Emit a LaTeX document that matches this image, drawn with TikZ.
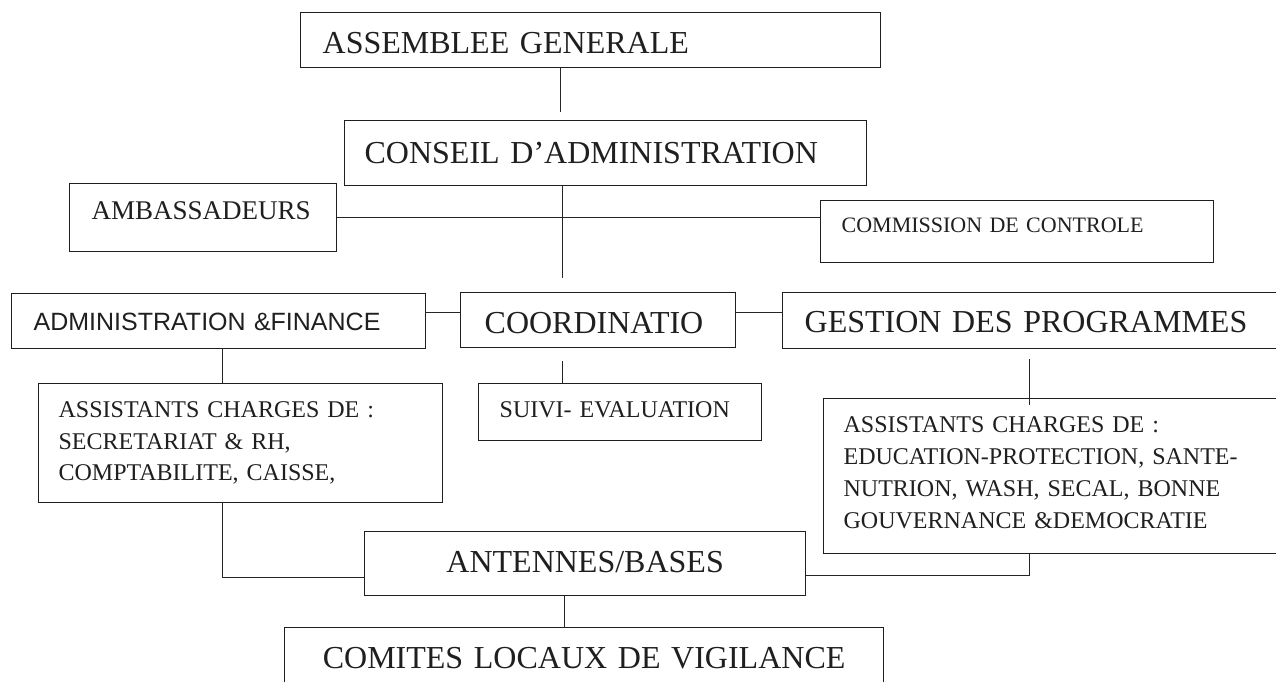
\documentclass[tikz,border=0pt]{standalone}
\usepackage{fontspec}
\setmainfont{Liberation Serif}
\newfontfamily\sansf{Liberation Sans}
\begin{document}
\begin{tikzpicture}[x=1pt,y=-1pt,
  box/.style={draw=black!88, line width=1.3pt, anchor=north west, inner ysep=0pt, align=left, text=black!88},
  conn/.style={draw=black!85, line width=1pt},
  fbig/.style={font=\fontsize{32}{38}\selectfont},
  fmid/.style={font=\fontsize{24}{31.5}\selectfont}]
\fill[white] (0,0) rectangle (1276,681);
\useasboundingbox (0,0) rectangle (1276,681);

\node[box, fbig, inner xsep=22pt, text width=536pt, text height=40.5pt, text depth=14.5pt] (ag) at (300,12) {ASSEMBLEE GENERALE};
\node[box, fbig, inner xsep=20pt, text width=482pt, text height=43pt, text depth=22pt] (ca) at (344,120) {CONSEIL D’ADMINISTRATION};
\node[box, font=\fontsize{27}{32}\selectfont, inner xsep=22pt, text width=223pt, text height=36pt, text depth=32pt] (amb) at (69,183) {AMBASSADEURS};
\node[box, font=\fontsize{22}{26}\selectfont, inner xsep=21pt, text width=351pt, text height=31.7pt, text depth=30.3pt] (comm) at (820,200) {COMMISSION DE CONTROLE};
\node[box, font=\sansf\fontsize{25}{30}\selectfont, inner xsep=22pt, text width=370pt, text height=37pt, text depth=18pt] (admin) at (11,293) {ADMINISTRATION \&FINANCE};
\node[box, fbig, inner xsep=24pt, text width=227pt, text height=41pt, text depth=14pt] (coord) at (460,292) {COORDINATIO};
\node[box, fbig, inner xsep=22pt, text width=464pt, text height=40pt, text depth=16pt] (gest) at (782,292) {GESTION DES PROGRAMMES};
\node[box, fmid, inner xsep=21pt, text width=241pt, text height=34pt, text depth=23pt] (suivi) at (478,383) {SUIVI- EVALUATION};
\node[box, fmid, inner xsep=20.5pt, text width=363.5pt, text height=34pt, text depth=85pt] (la) at (37.5,383) {ASSISTANTS CHARGES DE :\\SECRETARIAT \& RH,\\COMPTABILITE, CAISSE,};
\node[box, font=\fontsize{24}{32}\selectfont, inner xsep=20pt, text width=427pt, text height=34pt, text depth=121pt] (ra) at (823,398) {ASSISTANTS CHARGES DE :\\EDUCATION-PROTECTION, SANTE-\\NUTRION, WASH, SECAL, BONNE\\GOUVERNANCE \&DEMOCRATIE};
\node[box, fbig, align=center, inner xsep=20pt, text width=401pt, text height=41pt, text depth=23pt] (ant) at (364,531) {ANTENNES/BASES};
\node[box, fbig, align=center, inner xsep=20pt, text width=559pt, text height=41pt, text depth=32pt] (com) at (284,627) {COMITES LOCAUX DE VIGILANCE};

\coordinate (xa) at (560,0);
\coordinate (xb) at (562,0);
\coordinate (xc) at (222,0);
\coordinate (xd) at (1029,0);
\coordinate (xe) at (564,0);
\coordinate (ya) at (0,312);
\coordinate (yb) at (0,577);
\coordinate (yc) at (0,575);

\draw[conn, shorten >=8pt] (ag.south -| xa) -- (ca.north -| xa);
\draw[conn] (amb.east) -- (amb.east -| comm.west);
\draw[conn, shorten >=14pt] (ca.south -| xb) -- (coord.north -| xb);
\draw[conn] (admin.east |- ya) -- (coord.west |- ya);
\draw[conn] (coord.east |- ya) -- (gest.west |- ya);
\draw[conn] (admin.south -| xc) -- (la.north -| xc);
\draw[conn, shorten <=13pt] (coord.south -| xb) -- (suivi.north -| xb);
\draw[conn, shorten <=10pt, shorten >=-7pt] (gest.south -| xd) -- (ra.north -| xd);
\draw[conn] (la.south -| xc) |- (ant.west |- yb);
\draw[conn] (ra.south -| xd) |- (ant.east |- yc);
\draw[conn] (ant.south -| xe) -- (com.north -| xe);
\end{tikzpicture}
\end{document}
